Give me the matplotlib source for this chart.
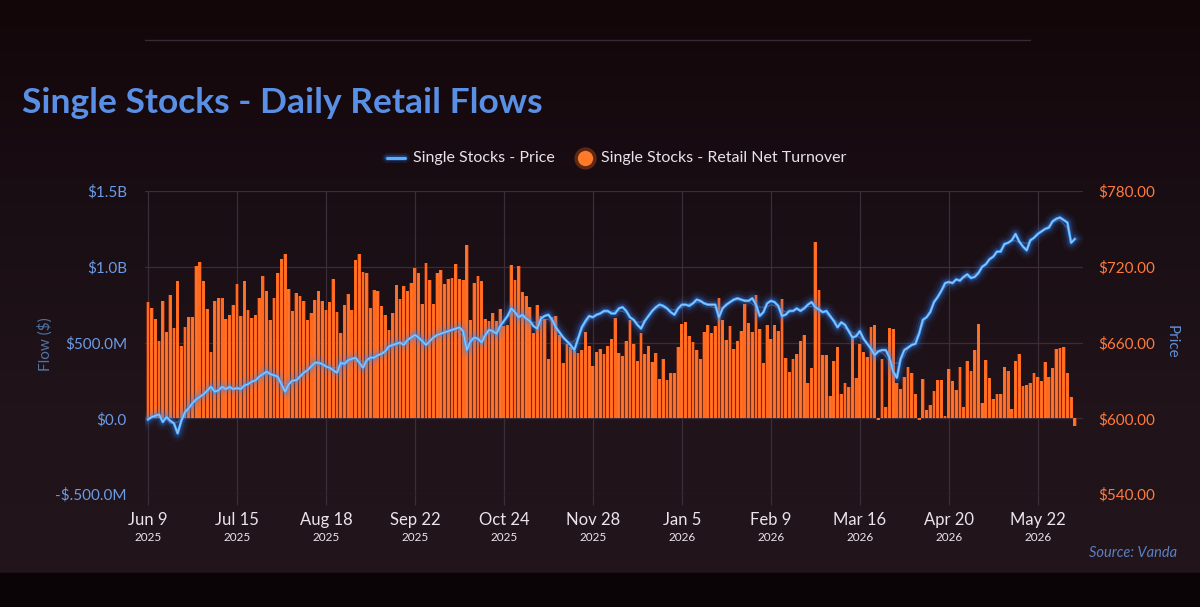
import numpy as np
import matplotlib
matplotlib.use('agg')
import matplotlib.pyplot as plt
from matplotlib.lines import Line2D
from matplotlib.patches import Rectangle
from matplotlib.colors import LinearSegmentedColormap
import matplotlib.transforms as mtransforms

plt.rcParams['font.family'] = ['Lato', 'DejaVu Sans']

# daily retail net turnover, $M (one value per trading day from Jun 9 2025)
flow = [
    766, 726, 658, 508, 775, 572, 812, 596, 905, 477,
    600, 671, 667, 1002, 1033, 909, 724, 437, 773, 797,
    797, 653, 684, 746, 887, 675, 905, 715, 662, 684,
    797, 936, 839, 649, 795, 960, 1049, 1082, 852, 706,
    826, 808, 773, 649, 693, 781, 841, 775, 715,
    766, 918, 702, 561, 748, 821, 715, 1042, 1082, 967,
    958, 728, 845, 839, 740, 682, 583, 698, 879, 788,
    870, 837, 892, 993, 962, 755, 1024, 912, 755, 958,
    980, 885, 918, 925, 1015, 918, 912, 1143, 649, 896,
    936, 903, 658, 645, 693, 640, 724, 609, 614, 1009,
    914, 1002, 834, 808, 733, 565, 748, 675, 653, 389,
    671, 675, 550, 362, 490, 468, 444, 428, 450, 570,
    477, 347, 439, 455, 424, 477, 523, 660, 433, 411,
    512, 649, 490, 380, 565, 424, 477, 369, 433, 256,
    389, 252, 300, 300, 468, 623, 636, 543, 501, 450,
    389, 570, 616, 561, 609, 795, 649, 517, 609, 455,
    508, 574, 755, 631, 570, 812, 592, 366, 616, 521,
    614, 576, 788, 397, 305, 391, 422, 512, 547, 230,
    331, 1161, 848, 419, 415, 146, 380, 472, 163, 234,
    203, 539, 265, 490, 437, 406, 600, 614, -9, 389,
    75, 594, 587, 234, 194, 269, 336, 300, 163, -13,
    256, 57, 88, 177, 252, 252, 13, 327, 245, 185,
    336, 75, 375, 313, 450, 623, 102, 384, 267, 130,
    157, 163, 340, 313, 64, 375, 424, 212, 219, 234,
    300, 274, 247, 369, 269, 333, 457, 461, 472, 300,
    141, -53,
]

# single stocks price, $
price = [
    599, 601, 602, 603, 597, 601, 598, 596, 588, 598,
    605, 608, 612, 615, 617, 619, 622, 625, 621, 622,
    625, 623, 625, 623, 624, 623, 626, 627, 629, 630,
    633, 635, 637, 635, 634, 633, 627, 621, 627, 630,
    630, 633, 636, 638, 641, 644, 644, 643, 641,
    640, 638, 636, 644, 643, 646, 647, 648, 644, 640,
    646, 648, 648, 650, 651, 653, 657, 658, 659, 660,
    658, 662, 664, 666, 664, 661, 658, 661, 664, 666,
    667, 668, 669, 670, 671, 672, 669, 654, 661, 664,
    663, 660, 666, 670, 669, 667, 673, 677, 681, 687,
    684, 680, 682, 679, 677, 673, 671, 679, 681, 682,
    678, 672, 668, 664, 661, 658, 654, 663, 672, 677,
    681, 680, 682, 683, 685, 685, 683, 683, 687, 688,
    685, 680, 678, 674, 671, 677, 681, 685, 688, 690,
    689, 687, 684, 682, 687, 690, 690, 689, 691, 694,
    693, 691, 690, 690, 690, 680, 687, 690, 692, 694,
    695, 694, 693, 693, 695, 690, 681, 684, 691, 693,
    692, 689, 681, 682, 685, 685, 687, 685, 687, 690,
    692, 688, 686, 684, 685, 681, 677, 672, 676, 674,
    669, 664, 665, 669, 663, 659, 655, 650, 653, 654,
    654, 648, 637, 632, 647, 654, 656, 658, 659, 667,
    678, 680, 684, 692, 696, 701, 707, 708, 707, 710,
    709, 712, 714, 711, 712, 715, 720, 722, 726, 728,
    732, 732, 738, 739, 741, 746, 740, 736, 733, 741,
    743, 746, 748, 750, 751, 756, 758, 759, 757, 755,
    739, 742,
]

tick_days = ["Jun 9", "Jul 15", "Aug 18", "Sep 22", "Oct 24", "Nov 28",
             "Jan 5", "Feb 9", "Mar 16", "Apr 20", "May 22"]
tick_years = ["2025", "2025", "2025", "2025", "2025", "2025",
              "2026", "2026", "2026", "2026", "2026"]
tick_step = 24  # trading days between labels

flow_ticks = [-500, 0, 500, 1000, 1500]
flow_labels = ["-$.500.0M", "$0.0", "$500.0M", "$1.0B", "$1.5B"]
price_ticks = [540, 600, 660, 720, 780]
price_labels = ["$540.00", "$600.00", "$660.00", "$720.00", "$780.00"]

W, H = 1200, 607
fig = plt.figure(figsize=(12, 6.07), dpi=100)
fig.patch.set_facecolor('#1b1016')

# background gradient + dark bottom band
bg = fig.add_axes([0, 0, 1, 1], zorder=-10)
cmap = LinearSegmentedColormap.from_list('bg', ['#22151c', '#20131a', '#1a0e15', '#120609'])
bg.imshow(np.linspace(0, 1, 256).reshape(-1, 1), aspect='auto', cmap=cmap,
          extent=[0, 1, 0, 1], origin='lower')
bg.add_patch(Rectangle((0, 0), 1, 34 / H, color='#0b0406', zorder=2))
bg.plot([145 / W, 1030 / W], [1 - 40 / H] * 2, color='#3a2a33', lw=1.0, zorder=3)
bg.set_xlim(0, 1)
bg.set_ylim(0, 1)
bg.axis('off')

ax = fig.add_axes([145 / W, 1 - 494 / H, (1083 - 145) / W, (494 - 191) / H])
ax.set_facecolor('none')
x = np.arange(len(flow))

# bars with a soft glow
ax.bar(x, flow, width=1.0, color='#e24810', alpha=0.45, zorder=2, linewidth=0)
ax.bar(x, flow, width=0.76, color='#ff6a1f', zorder=3, linewidth=0)
ax.bar(x, flow, width=0.2, color='#ff8c4a', alpha=0.35, zorder=4, linewidth=0)

ax.set_xlim(-0.8, 252.2)
ax.set_ylim(-500, 1500)
ax.set_yticks(flow_ticks)
ax.set_yticklabels(flow_labels)
xt = np.arange(len(tick_days)) * tick_step
ax.set_xticks(xt)
ax.set_xticklabels(tick_days)
ax.set_axisbelow(True)
ax.grid(True, color='#3a2d37', lw=0.9)
for s in ax.spines.values():
    s.set_visible(False)
ax.tick_params(axis='y', length=0, pad=13, labelsize=11, labelcolor='#6b9ce6')
ax.tick_params(axis='x', length=8, width=0.9, color='#3a2d37', pad=5,
               labelsize=12, labelcolor='#ebe4ec')

trans = mtransforms.blended_transform_factory(ax.transData, ax.transAxes)
for xi, yr in zip(xt, tick_years):
    ax.text(xi, -0.142, yr, transform=trans, ha='center', va='center',
            fontsize=8.5, color='#ebe4ec')

# price line on the right axis
ax2 = ax.twinx()
ax2.set_ylim(540, 780)
ax2.set_yticks(price_ticks)
ax2.set_yticklabels(price_labels)
for s in ax2.spines.values():
    s.set_visible(False)
ax2.tick_params(axis='y', length=0, pad=11, labelsize=11, labelcolor='#ff7b3d')

ghost = np.convolve(price, np.ones(5) / 5, mode='same')
ghost[:2] = price[:2]
ghost[-2:] = price[-2:]
ax2.plot(x, ghost, color='#8aa9e6', lw=0.9, alpha=0.35)
for lw, a in [(12, 0.06), (8, 0.10), (5, 0.22)]:
    ax2.plot(x, price, color='#2f86ff', lw=lw, alpha=a, solid_joinstyle='round')
ax2.plot(x, price, color='#4aa6ff', lw=1.9, solid_joinstyle='round')
ax2.plot(x, price, color='#d4ecff', lw=0.7, alpha=0.55)

# axis titles
fig.text(45 / W, 1 - 344 / H, "Flow ($)", rotation=90, ha='center', va='center',
         fontsize=11, color='#4f74a8')
fig.text(1172 / W, 1 - 342 / H, "Price", rotation=270, ha='center', va='center',
         fontsize=11, color='#5e8ed8')

# title
fig.text(22 / W, 1 - 113 / H, "Single Stocks - Daily Retail Flows", ha='left',
         va='baseline', fontsize=25.5, fontweight='bold', color='#5a8fe6')

# legend
ly = 1 - 158 / H
for lw, a in [(7, 0.12), (4, 0.3)]:
    fig.add_artist(Line2D([387 / W, 405 / W], [ly, ly], color='#2f86ff', lw=lw,
                          alpha=a, transform=fig.transFigure, solid_capstyle='round'))
fig.add_artist(Line2D([387 / W, 405 / W], [ly, ly], color='#5ab0ff', lw=2.2,
                      transform=fig.transFigure, solid_capstyle='round'))
fig.text(413 / W, ly, "Single Stocks - Price", ha='left', va='center',
         fontsize=11.5, color='#e8e2ea')
fig.add_artist(Line2D([585 / W], [ly], marker='o', markersize=16, color='#ff6a1a',
                      alpha=0.3, transform=fig.transFigure, markeredgewidth=0))
fig.add_artist(Line2D([585 / W], [ly], marker='o', markersize=11, color='#ff7a28',
                      transform=fig.transFigure, markeredgewidth=0))
fig.text(601 / W, ly, "Single Stocks - Retail Net Turnover", ha='left', va='center',
         fontsize=11.5, color='#e8e2ea')

fig.text(1177 / W, 1 - 553 / H, "Source: Vanda", ha='right', va='center',
         fontsize=10.5, style='italic', color='#5b7fc0')

plt.savefig('out.png', dpi=100, facecolor=fig.get_facecolor())
